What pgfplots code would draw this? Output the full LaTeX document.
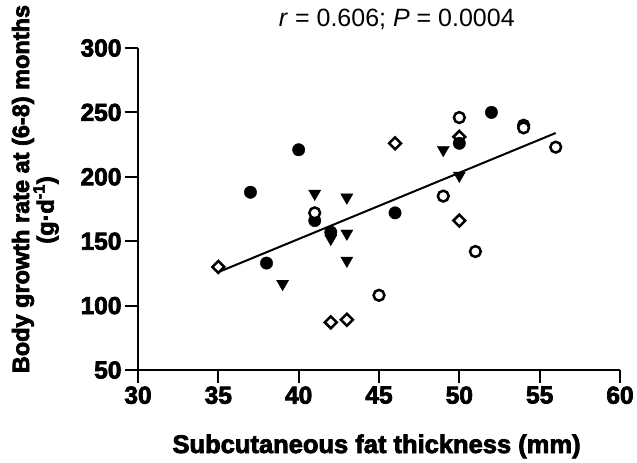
\documentclass[border=0pt]{standalone}
\usepackage{fontspec}
\setmainfont{Liberation Sans}[BoldFeatures={FakeBold=3}]
\usepackage{pgfplots}
\pgfplotsset{compat=1.18}
\begin{document}
\begin{tikzpicture}
\begin{axis}[
  scale only axis, width=482pt, height=322pt,
  xmin=30, xmax=60, ymin=50, ymax=300,
  axis lines=left, axis line style={-, line width=2pt},
  xtick={30,35,...,60}, ytick={50,100,...,300},
  tick align=outside, major tick length=13pt,
  tick style={line width=2pt, black},
  /pgf/number format/assume math mode=true,
  ticklabel style={font=\fontsize{24.5}{25}\selectfont\bfseries},
  clip=false,
  after end axis/.code={
    \node[rotate=90, font=\fontsize{23.5}{24}\selectfont\bfseries]
      at ([xshift=-115pt]rel axis cs:0,0.562) {Body growth rate at (6-8) months};
    \node[rotate=90, font=\fontsize{23.5}{24}\selectfont\bfseries]
      at ([xshift=-92pt]rel axis cs:0,0.497) {(g·d\textsuperscript{-1})};
    \node[anchor=base, font=\fontsize{25.5}{26}\selectfont\bfseries, inner sep=0pt]
      at ([yshift=-83pt]rel axis cs:0.495,0) {Subcutaneous fat thickness (mm)};
    \node[anchor=base, font=\fontsize{25}{25}\selectfont, inner sep=0pt]
      at ([yshift=21pt]rel axis cs:0.537,1) {\textit{r} = 0.606; \textit{P} = 0.0004};
  },
]
% regression line
\addplot[black, line width=2pt, no marks] coordinates {(35,126) (56,234)};
% open diamonds
\addplot[only marks, mark=square*, mark size=4.2pt, line width=2.5pt,
  mark options={fill=white, draw=black, rotate=45}] coordinates {
  (35,130) (42,87) (43,89) (46,226) (50,231) (50,166)};
% filled circles
\addplot[only marks, mark=*, mark size=6.2pt, mark options={fill=black, draw=black}] coordinates {
  (37,188) (38,133) (40,221) (41,166) (42,157) (46,172) (50,226) (52,250)};
% open circles
\addplot[only marks, mark=*, mark size=5.4pt, line width=2.5pt,
  mark options={fill=white, draw=black}] coordinates {
  (41,172) (45,108) (49,185) (50,246) (51,142) (54,240) (54,238) (56,223)};
% filled down-triangles
\addplot[only marks, mark=triangle*, mark size=7pt,
  mark options={fill=black, draw=black, rotate=180}] coordinates {
  (39,117) (41,187) (42,152) (43,184) (43,156) (43,135) (49,221) (50,201)};
\end{axis}
\pgfresetboundingbox
\path[use as bounding box] ([xshift=-138pt,yshift=-93pt]current axis.south west)
  rectangle ([xshift=17pt,yshift=48pt]current axis.north east);
\end{tikzpicture}
\end{document}
